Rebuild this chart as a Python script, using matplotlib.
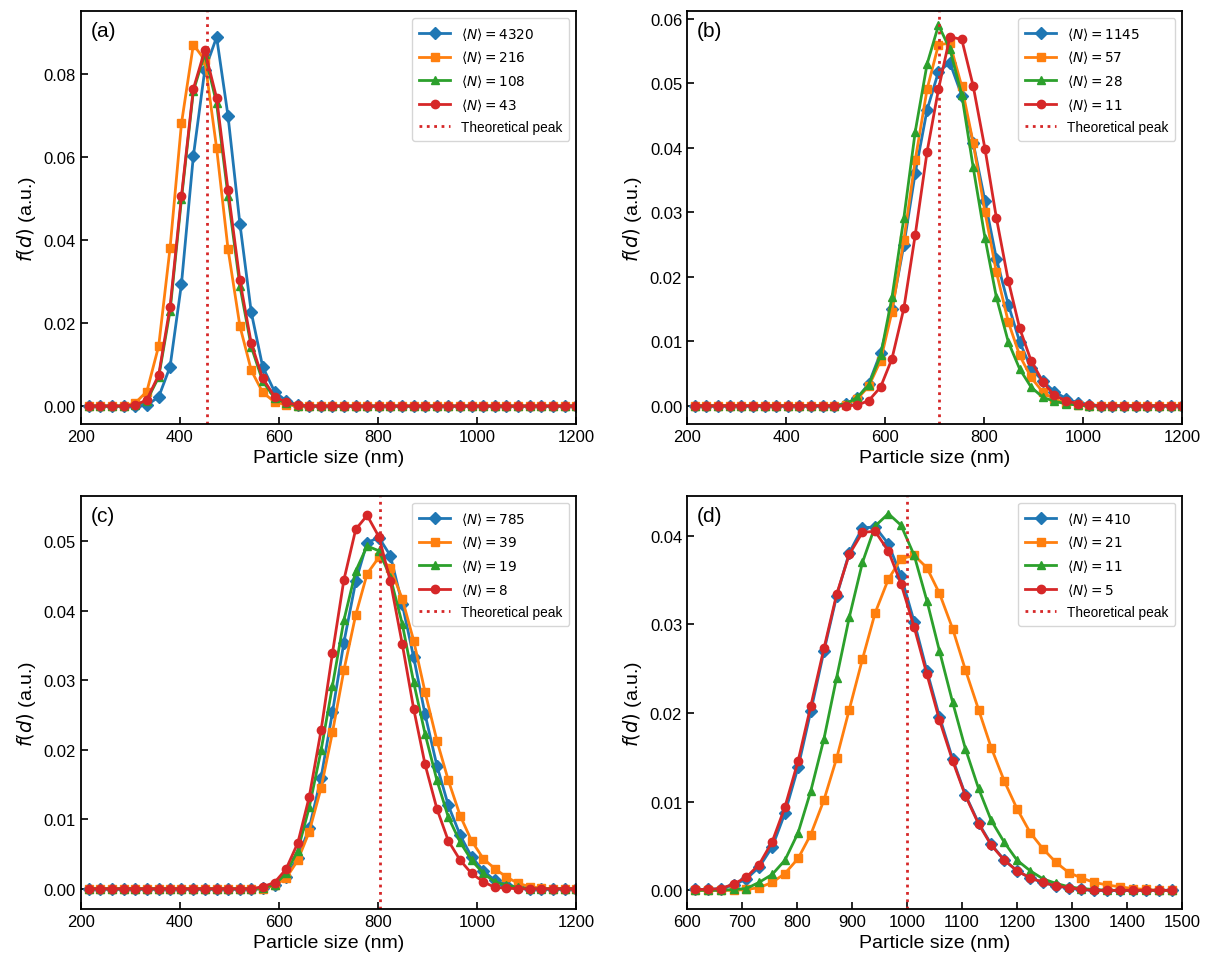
import matplotlib
matplotlib.use("Agg")
import matplotlib.pyplot as plt
from matplotlib.ticker import MultipleLocator

plt.rcParams['font.family'] = ['Liberation Sans', 'DejaVu Sans']

# 粒径网格 (nm)，面板 a-c 共用
d_abc = [216, 239, 263, 286, 310, 333, 357, 380, 403, 427, 450, 474, 497, 521, 544,
         567, 591, 614, 638, 661, 685, 708, 731, 755, 778, 802, 825, 849, 872, 895,
         919, 942, 966, 989, 1013, 1036, 1059, 1083, 1106, 1130, 1153, 1177, 1200]
# 面板 d 的网格
d_d = [614, 638, 661, 685, 708, 731, 755, 778, 802, 825, 849, 872, 895, 919, 942,
       966, 989, 1013, 1036, 1059, 1083, 1106, 1130, 1153, 1177, 1200, 1224, 1247,
       1270, 1294, 1317, 1340, 1364, 1387, 1411, 1434, 1458, 1481]

# (a)
labels_a = ['4320', '216', '108', '43']
a_blue = [0, 0, 0, 0, 0, 0.0002, 0.0022, 0.0095, 0.0295, 0.0603, 0.0810, 0.0890, 0.0700,
          0.0440, 0.0226, 0.0095, 0.0035, 0.0013, 0.0003] + [0] * 24
a_orange = [0, 0, 0, 0, 0.0008, 0.0035, 0.0145, 0.0382, 0.0682, 0.0872, 0.0835, 0.0622,
            0.0379, 0.0193, 0.0086, 0.0033, 0.0010, 0.0003, 0] + [0] * 24
a_green = [0, 0, 0, 0, 0.0002, 0.0013, 0.0070, 0.0230, 0.0500, 0.0760, 0.0850, 0.0730,
           0.0507, 0.0290, 0.0143, 0.0060, 0.0020, 0.0007, 0.0001] + [0] * 24
a_red = [0, 0, 0, 0, 0.0002, 0.0015, 0.0075, 0.0240, 0.0507, 0.0765, 0.0858, 0.0743,
         0.0522, 0.0303, 0.0151, 0.0067, 0.0023, 0.0009, 0.0002] + [0] * 24
peak_a = 455

# (b)
labels_b = ['1145', '57', '28', '11']
b_blue = [0] * 13 + [0.0003, 0.0012, 0.0034, 0.0082, 0.0150, 0.0249, 0.0361, 0.0459, 0.0518,
                     0.0532, 0.0481, 0.0408, 0.0317, 0.0228, 0.0157, 0.0099, 0.0058, 0.0038,
                     0.0022, 0.0011, 0.0005, 0.0002] + [0] * 8
b_orange = [0] * 13 + [0.0002, 0.0011, 0.0030, 0.0070, 0.0146, 0.0257, 0.0381, 0.0491, 0.0560,
                       0.0562, 0.0495, 0.0408, 0.0300, 0.0207, 0.0130, 0.0078, 0.0044, 0.0021,
                       0.0010, 0.0004, 0.0002, 0] + [0] * 8
b_green = [0] * 13 + [0.0003, 0.0013, 0.0032, 0.0078, 0.0168, 0.0291, 0.0425, 0.0530, 0.0590,
                      0.0553, 0.0482, 0.0370, 0.0260, 0.0168, 0.0099, 0.0057, 0.0029, 0.0013,
                      0.0007, 0.0003, 0.0001, 0] + [0] * 8
b_red = [0] * 13 + [0, 0.0001, 0.0008, 0.0029, 0.0073, 0.0151, 0.0265, 0.0394, 0.0491, 0.0572,
                    0.0568, 0.0496, 0.0398, 0.0291, 0.0194, 0.0120, 0.0070, 0.0037, 0.0016,
                    0.0008, 0.0003, 0.0001] + [0] * 8
peak_b = 710

# (c)
labels_c = ['785', '39', '19', '8']
c_blue = [0] * 15 + [0.0001, 0.0005, 0.0017, 0.0045, 0.0087, 0.0160, 0.0254, 0.0354, 0.0442,
                     0.0498, 0.0505, 0.0479, 0.0409, 0.0333, 0.0251, 0.0177, 0.0120, 0.0077,
                     0.0046, 0.0026, 0.0012, 0.0006, 0.0002] + [0] * 5
c_orange = [0] * 15 + [0, 0.0005, 0.0015, 0.0041, 0.0082, 0.0145, 0.0225, 0.0314, 0.0394,
                       0.0453, 0.0477, 0.0461, 0.0417, 0.0357, 0.0283, 0.0213, 0.0156, 0.0105,
                       0.0069, 0.0043, 0.0029, 0.0017, 0.0008, 0.0003, 0.0001] + [0] * 3
c_green = [0] * 15 + [0.0001, 0.0006, 0.0022, 0.0055, 0.0117, 0.0199, 0.0292, 0.0386, 0.0457,
                      0.0493, 0.0486, 0.0448, 0.0381, 0.0297, 0.0223, 0.0156, 0.0103, 0.0067,
                      0.0041, 0.0022, 0.0010, 0.0005, 0.0002] + [0] * 5
c_red = [0] * 15 + [0.0003, 0.0009, 0.0028, 0.0066, 0.0132, 0.0228, 0.0339, 0.0444, 0.0517,
                    0.0537, 0.0506, 0.0442, 0.0352, 0.0259, 0.0179, 0.0115, 0.0069, 0.0041,
                    0.0022, 0.0010, 0.0002, 0.0001, 0] + [0] * 5
peak_c = 803

# (d)
labels_d = ['410', '21', '11', '5']
d_blue = [0.0001, 0.0001, 0.0002, 0.0006, 0.0013, 0.0026, 0.0049, 0.0087, 0.0139, 0.0202,
          0.0270, 0.0332, 0.0381, 0.0409, 0.0410, 0.0391, 0.0355, 0.0303, 0.0248, 0.0196,
          0.0148, 0.0108, 0.0076, 0.0052, 0.0034, 0.0022, 0.0014, 0.0009, 0.0005, 0.0003,
          0.0001, 0, 0, 0, 0, 0, 0, 0]
d_orange = [0, 0, 0, 0, 0.0001, 0.0003, 0.0009, 0.0019, 0.0036, 0.0063, 0.0102, 0.0149,
            0.0204, 0.0261, 0.0313, 0.0351, 0.0374, 0.0378, 0.0364, 0.0335, 0.0295, 0.0249,
            0.0204, 0.0161, 0.0123, 0.0092, 0.0065, 0.0047, 0.0032, 0.0020, 0.0014, 0.0009,
            0.0006, 0.0004, 0.0002, 0.0001, 0, 0]
d_green = [0, 0, 0, 0.0001, 0.0002, 0.0009, 0.0018, 0.0034, 0.0065, 0.0112, 0.0171, 0.0240,
           0.0308, 0.0370, 0.0411, 0.0425, 0.0412, 0.0378, 0.0327, 0.0270, 0.0212, 0.0160,
           0.0115, 0.0079, 0.0054, 0.0034, 0.0022, 0.0013, 0.0008, 0.0004, 0.0002, 0.0001,
           0, 0, 0, 0, 0, 0]
d_red = [0.0001, 0.0001, 0.0002, 0.0007, 0.0015, 0.0029, 0.0055, 0.0094, 0.0146, 0.0208,
         0.0273, 0.0334, 0.0379, 0.0404, 0.0405, 0.0383, 0.0346, 0.0297, 0.0244, 0.0192,
         0.0146, 0.0107, 0.0075, 0.0051, 0.0034, 0.0022, 0.0014, 0.0009, 0.0005, 0.0003,
         0.0001, 0, 0, 0, 0, 0, 0, 0]
peak_d = 1000

colors = ['tab:blue', 'tab:orange', 'tab:green', 'tab:red']
markers = ['D', 's', '^', 'o']


def draw_panel(ax, x, series, labels, peak, tag, xlim, ylim, xstep, ystep):
    """画一个子图"""
    for y, lab, c, m in zip(series, labels, colors, markers):
        ax.plot(x, y, color=c, marker=m, markersize=6, linewidth=2,
                label=r'$\langle N\rangle = %s$' % lab)
    ax.axvline(peak, color='tab:red', linestyle=':', linewidth=2, label='Theoretical peak')
    ax.set_xlim(*xlim)
    ax.set_ylim(*ylim)
    ax.xaxis.set_major_locator(MultipleLocator(xstep))
    ax.yaxis.set_major_locator(MultipleLocator(ystep))
    ax.yaxis.set_major_formatter(plt.FormatStrFormatter('%.2f'))
    ax.tick_params(direction='in', labelsize=12, length=5, width=1.2)
    for s in ax.spines.values():
        s.set_linewidth(1.3)
    ax.set_xlabel('Particle size (nm)', fontsize=14)
    ax.set_ylabel(r'$f(d)$ (a.u.)', fontsize=14)
    ax.text(0.02, 0.975, tag, transform=ax.transAxes, fontsize=15, va='top', ha='left')
    ax.legend(loc='upper right', fontsize=9.8, handlelength=2.3, borderpad=0.5,
              labelspacing=0.5)


fig = plt.figure(figsize=(12.14, 9.70), dpi=100)
ax_a = fig.add_axes([0.0667, 0.562, 0.4078, 0.4256])
ax_b = fig.add_axes([0.5659, 0.562, 0.4078, 0.4256])
ax_c = fig.add_axes([0.0667, 0.0619, 0.4078, 0.4258])
ax_d = fig.add_axes([0.5659, 0.0619, 0.4078, 0.4258])

draw_panel(ax_a, d_abc, [a_blue, a_orange, a_green, a_red], labels_a, peak_a, '(a)',
           (200, 1200), (-0.0043, 0.0953), 200, 0.02)
draw_panel(ax_b, d_abc, [b_blue, b_orange, b_green, b_red], labels_b, peak_b, '(b)',
           (200, 1200), (-0.0028, 0.0612), 200, 0.01)
draw_panel(ax_c, d_abc, [c_blue, c_orange, c_green, c_red], labels_c, peak_c, '(c)',
           (200, 1200), (-0.0029, 0.0565), 200, 0.01)
draw_panel(ax_d, d_d, [d_blue, d_orange, d_green, d_red], labels_d, peak_d, '(d)',
           (600, 1500), (-0.0021, 0.0445), 100, 0.01)

fig.savefig('out.png', dpi=100)
